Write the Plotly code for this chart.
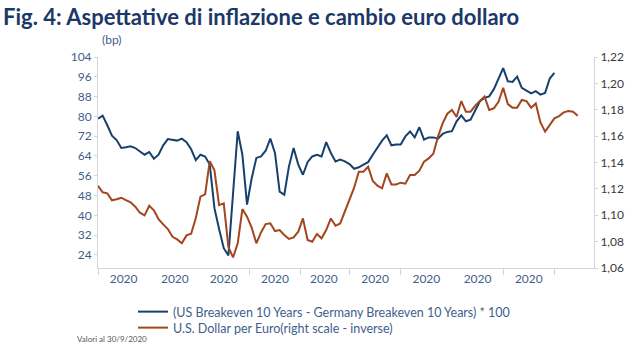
import pandas as pd
import plotly.graph_objects as go

# One reading every two business days, starting 1 January 2020
START = "2020-01-01"
STEP = "2B"

# (US Breakeven 10Y - Germany Breakeven 10Y) * 100, basis points
breakeven_spread = [
    79.1, 80.3, 76.4, 72.2, 70.4, 67.2, 67.5, 67.9, 67.2, 65.9,
    64.5, 65.6, 62.9, 64.5, 68.3, 70.8, 70.4, 70.2, 71.0, 69.6,
    66.7, 62.3, 64.5, 63.8, 60.5, 42.9, 34.5, 26.7, 23.8, 51.0,
    74.0, 64.5, 44.3, 55.0, 63.2, 63.8, 66.1, 71.0, 65.2, 49.6,
    48.3, 59.8, 67.2, 60.5, 56.4, 61.5, 63.8, 64.5, 63.8, 69.6,
    65.2, 61.8, 62.5, 61.8, 60.7, 58.8, 59.4, 60.5, 61.5, 64.5,
    67.5, 70.2, 72.3, 68.3, 68.6, 68.6, 71.9, 73.9, 71.5, 75.6,
    70.6, 71.5, 71.5, 71.0, 72.9, 73.7, 74.0, 78.0, 80.4, 78.0,
    78.7, 82.7, 86.1, 87.5, 88.1, 91.0, 95.6, 99.5, 94.2, 93.9,
    96.1, 91.5, 90.4, 89.3, 90.2, 88.8, 89.5, 95.3, 97.6,
]

# U.S. Dollar per Euro
eurusd = [
    1.1224, 1.1174, 1.1166, 1.1113, 1.1121, 1.1133, 1.1115, 1.1098, 1.1065, 1.1019,
    1.0999, 1.1072, 1.1037, 1.0971, 1.0931, 1.0895, 1.0837, 1.0817, 1.0787, 1.0847,
    1.0860, 1.0979, 1.1141, 1.1158, 1.1410, 1.1340, 1.1077, 1.1090, 1.0760, 1.0680,
    1.0787, 1.1047, 1.0989, 1.0906, 1.0787, 1.0870, 1.0933, 1.0939, 1.0880, 1.0888,
    1.0850, 1.0820, 1.0832, 1.0875, 1.0976, 1.0812, 1.0799, 1.0858, 1.0825, 1.0888,
    1.0976, 1.0920, 1.0938, 1.1027, 1.1128, 1.1209, 1.1330, 1.1330, 1.1368, 1.1260,
    1.1224, 1.1204, 1.1318, 1.1234, 1.1234, 1.1247, 1.1239, 1.1305, 1.1305, 1.1338,
    1.1406, 1.1431, 1.1467, 1.1596, 1.1697, 1.1770, 1.1798, 1.1745, 1.1866, 1.1785,
    1.1785, 1.1831, 1.1866, 1.1900, 1.1798, 1.1811, 1.1861, 1.1967, 1.1843, 1.1816,
    1.1816, 1.1874, 1.1866, 1.1816, 1.1848, 1.1704, 1.1634, 1.1689, 1.1735, 1.1752,
    1.1780, 1.1790, 1.1785, 1.1755,
]

SPREAD_NAME = "(US Breakeven 10 Years - Germany Breakeven 10 Years) * 100"
FX_NAME = "U.S. Dollar per Euro(right scale - inverse)"
TITLE = "Fig. 4: Aspettative di inflazione e cambio euro dollaro"
NOTE = "Valori al 30/9/2020"

LEFT_TICKS = list(range(24, 105, 8))

BLUE = "#17406e"
RUST = "#a2461f"
LABEL = "#3f5e8c"
AXIS = "#d6d6d6"
FONT = "Lato"

# plot area geometry (pixels)
PL, PR, PT, PB = 98, 594, 57, 268
PW, PH = PR - PL, PB - PT


def px_x(x):
    return (x - PL) / PW


def px_y(y):
    return (PB - y) / PH


dates_spread = pd.bdate_range(START, periods=len(breakeven_spread), freq=STEP)
dates_fx = pd.bdate_range(START, periods=len(eurusd), freq=STEP)

# month boundaries carry the tick marks, the middle of each month carries the label
month_starts = pd.date_range("2020-01-01", "2020-10-01", freq="MS")
month_mid = []
for m0, m1 in zip(month_starts[:-1], month_starts[1:]):
    days = pd.bdate_range(m0, m1 - pd.Timedelta(days=1))
    month_mid.append(days[len(days) // 2])

fig = go.Figure()
fig.add_trace(go.Scatter(
    x=dates_spread, y=breakeven_spread, name=SPREAD_NAME, mode="lines",
    line=dict(color=BLUE, width=2), yaxis="y", legend="legend",
))
fig.add_trace(go.Scatter(
    x=dates_fx, y=eurusd, name=FX_NAME, mode="lines",
    line=dict(color=RUST, width=2), yaxis="y2", legend="legend2",
))

legend_common = dict(
    xanchor="left", yanchor="middle", orientation="v",
    bgcolor="rgba(0,0,0,0)", borderwidth=0,
    font=dict(family=FONT, size=12.5, color=LABEL), itemwidth=30,
)

fig.update_layout(
    width=644, height=348,
    margin=dict(l=PL, r=644 - PR, t=PT, b=348 - PB, autoexpand=False),
    paper_bgcolor="white", plot_bgcolor="white",
    separators=",.",
    font=dict(family=FONT, size=12, color=LABEL),
    showlegend=True,
    legend=dict(x=px_x(133), y=px_y(312), **legend_common),
    legend2=dict(x=px_x(133), y=px_y(328), **legend_common),
    xaxis=dict(
        type="date",
        range=["2020-01-01", "2020-10-26"],
        rangebreaks=[dict(bounds=["sat", "mon"])],
        tickmode="array", tickvals=month_mid, ticktext=["2020"] * len(month_mid),
        ticks="", showgrid=False, zeroline=False,
        showline=True, linecolor=AXIS, linewidth=1,
        tickfont=dict(family=FONT, size=12, color=LABEL),
        minor=dict(tickmode="array", tickvals=list(month_starts), ticks="outside",
                   ticklen=6, tickcolor=AXIS, showgrid=False),
    ),
    yaxis=dict(
        range=[18.7, 104], tickmode="array", tickvals=LEFT_TICKS,
        showgrid=False, zeroline=False,
        showline=True, linecolor=AXIS, linewidth=1,
        ticks="outside", ticklen=3, tickcolor=AXIS,
        tickfont=dict(family=FONT, size=12, color=LABEL),
    ),
    yaxis2=dict(
        overlaying="y", side="right",
        range=[1.06, 1.22], dtick=0.02, tick0=1.06, tickformat=".2f",
        showgrid=False, zeroline=False,
        showline=True, linecolor=AXIS, linewidth=1,
        ticks="outside", ticklen=3, tickcolor=AXIS,
        tickfont=dict(family=FONT, size=12, color="#3a3a3a"),
    ),
    annotations=[
        dict(text="<b>" + TITLE + "</b>", xref="paper", yref="paper",
             x=px_x(1), y=px_y(16), xanchor="left", yanchor="middle",
             showarrow=False, font=dict(family=FONT, size=22, color="#1b3868")),
        dict(text="(bp)", xref="paper", yref="paper",
             x=px_x(100), y=px_y(40), xanchor="left", yanchor="middle",
             showarrow=False, font=dict(family=FONT, size=12, color=LABEL)),
        dict(text=NOTE, xref="paper", yref="paper",
             x=px_x(75), y=px_y(339), xanchor="left", yanchor="middle",
             showarrow=False, font=dict(family=FONT, size=8, color="#555555")),
    ],
)

fig.write_html("out.html")
